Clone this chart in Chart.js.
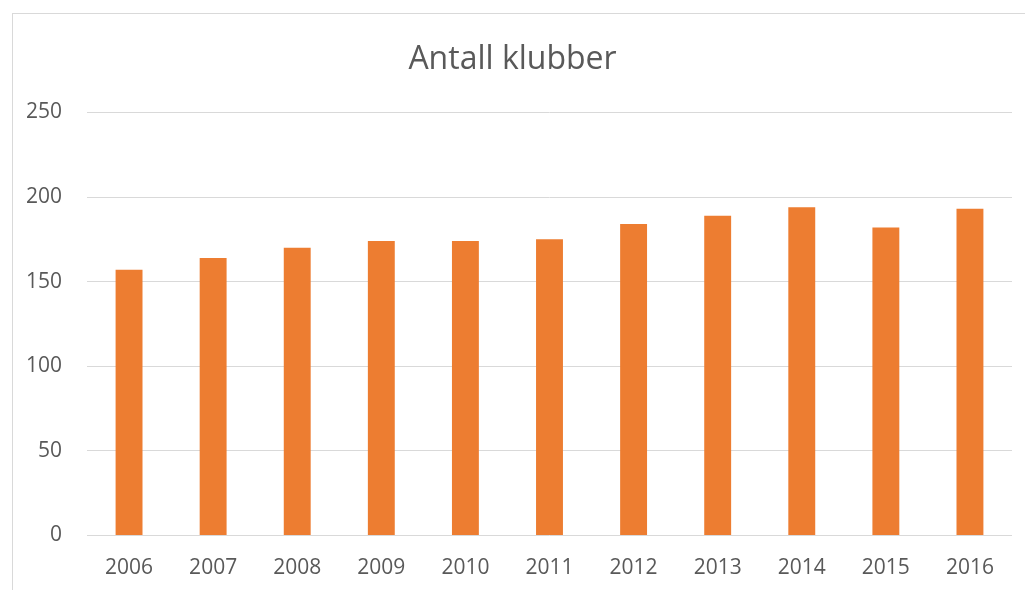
<!DOCTYPE html>
<html>
<head>
<meta charset="utf-8">
<script src="https://cdn.jsdelivr.net/npm/chart.js@4/dist/chart.umd.min.js"></script>
<style>
  html, body { margin: 0; padding: 0; background: #fff; overflow: hidden; }
  #frame {
    position: absolute; left: 12px; top: 13px;
    width: 1030px; height: 600px;
    border: 1px solid #d9d9d9; box-sizing: border-box;
  }
  #wrap { position: absolute; left: 13px; top: 14px; width: 1012px; height: 576px; }
</style>
</head>
<body>
<div id="frame"></div>
<div id="wrap"><canvas id="chart"></canvas></div>
<script>
const years = ["2006", "2007", "2008", "2009", "2010", "2011", "2012", "2013", "2014", "2015", "2016"];
const clubs = [157, 164, 170, 174, 174, 175, 184, 189, 194, 182, 193];
const yTicks = [0, 50, 100, 150, 200, 250];

const textColor = "#595959";
const fontFamily = "'Open Sans', 'Liberation Sans', sans-serif";

document.addEventListener("DOMContentLoaded", () => {
  const ctx = document.getElementById("chart").getContext("2d");
  new Chart(ctx, {
    type: "bar",
    data: {
      labels: years,
      datasets: [
        {
          label: "Antall klubber",
          data: clubs,
          backgroundColor: "#ED7D31",
          borderWidth: 0,
          categoryPercentage: 1,
          barPercentage: 0.32,
        },
      ],
    },
    options: {
      responsive: true,
      maintainAspectRatio: false,
      animation: false,
      layout: { padding: { left: 0, right: 13, top: 0, bottom: 0 } },
      plugins: {
        legend: { display: false },
        tooltip: { enabled: false },
        title: {
          display: true,
          text: "Antall klubber",
          color: textColor,
          font: { family: fontFamily, size: 32, weight: "normal", lineHeight: 1.2 },
          padding: { top: 27, bottom: 33 },
        },
      },
      scales: {
        x: {
          grid: { display: false, drawTicks: false },
          border: { display: false },
          ticks: {
            color: textColor,
            font: { family: fontFamily, size: 21 },
            padding: 20,
            maxRotation: 0,
          },
          afterFit: (scale) => { scale.height = 54.5; },
        },
        y: {
          min: 0,
          max: 250,
          afterBuildTicks: (scale) => {
            scale.ticks = yTicks.map((v) => ({ value: v }));
          },
          grid: { color: "#d9d9d9", lineWidth: 1, drawTicks: false },
          border: { display: false },
          ticks: {
            color: textColor,
            font: { family: fontFamily, size: 21 },
            padding: 25,
          },
          afterFit: (scale) => { scale.width = 74; },
        },
      },
    },
  });
});
</script>
</body>
</html>
